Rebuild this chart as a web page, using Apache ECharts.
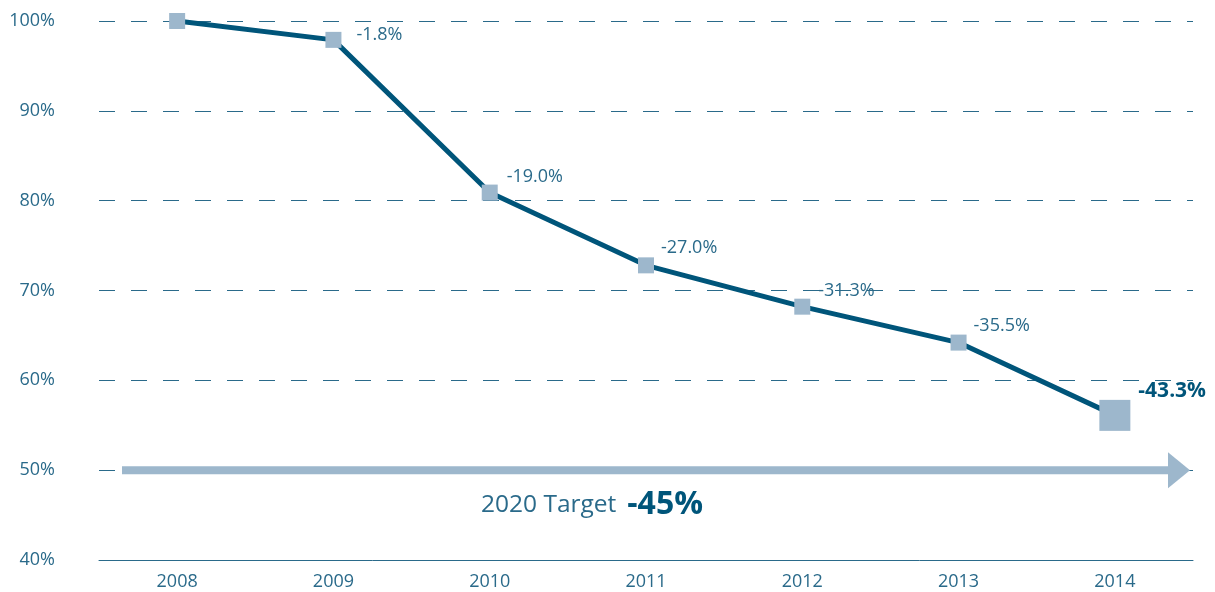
<!DOCTYPE html>
<html>
<head>
<meta charset="utf-8">
<script src="https://cdn.jsdelivr.net/npm/echarts@6/dist/echarts.min.js"></script>
<style>
    html, body { margin: 0; padding: 0; background: #fff; }
    #main { width: 1215px; height: 592px; }
</style>
</head>
<body>
<div id="main"></div>
<script>
var years = ['2008', '2009', '2010', '2011', '2012', '2013', '2014'];
var values = [100, 97.9, 80.9, 72.8, 68.2, 64.2, 56.1];
var changeLabels = ['', '-1.8%', '-19.0%', '-27.0%', '-31.3%', '-35.5%', '-43.3%'];
var targetValue = 50;
var targetText = '2020 Target';
var targetChange = '-45%';

var textColor = '#2a6a8a';
var lineColor = '#00557a';
var markColor = '#9db7cc';
var fontFamily = '"Open Sans", "Noto Sans", sans-serif';

var labelOffsets = [[0, 0], [15, -5], [9, -16], [7, -17], [8, -16], [7, -17], [8, -24]];

var seriesData = [];
for (var i = 0; i < values.length; i++) {
    var last = i === values.length - 1;
    seriesData.push({
        value: values[i],
        symbolSize: last ? 31 : 16,
        label: {
            show: changeLabels[i] !== '',
            formatter: changeLabels[i],
            position: 'right',
            distance: 0,
            offset: labelOffsets[i],
            fontSize: last ? 21 : 18,
            fontWeight: last ? 'bold' : 'normal',
            color: last ? lineColor : textColor,
            fontFamily: fontFamily
        }
    });
}

var myChart = echarts.init(document.getElementById('main'));
var option = {
    animation: false,
    grid: { left: 99, right: 22, top: 21, bottom: 32 },
    xAxis: {
        type: 'category',
        data: years,
        boundaryGap: true,
        axisLine: { lineStyle: { color: textColor, width: 1 } },
        axisTick: { show: false },
        axisLabel: { color: textColor, fontSize: 18, margin: 13, fontFamily: fontFamily }
    },
    yAxis: {
        type: 'value',
        min: 40,
        max: 100,
        interval: 10,
        axisLine: { show: false },
        axisTick: { show: false },
        axisLabel: { formatter: '{value}%', color: textColor, fontSize: 18, margin: 44, fontFamily: fontFamily },
        splitLine: { lineStyle: { color: textColor, width: 1, type: [16, 16] } }
    },
    series: [{
        type: 'line',
        data: seriesData,
        symbol: 'rect',
        z: 5,
        lineStyle: { color: lineColor, width: 5 },
        itemStyle: { color: markColor, opacity: 1 }
    }]
};
myChart.setOption(option);

// target arrow and caption, placed through the value scale
var ty = myChart.convertToPixel({ yAxisIndex: 0 }, targetValue);
var ry = myChart.convertToPixel({ yAxisIndex: 0 }, 46.1);
myChart.setOption({
    graphic: [{
        type: 'rect',
        shape: { x: 122, y: ty - 4, width: 1048, height: 8 },
        style: { fill: markColor },
        z: 3
    }, {
        type: 'polygon',
        shape: { points: [[1168, ty - 18], [1190, ty], [1168, ty + 18]] },
        style: { fill: markColor },
        z: 3
    }, {
        type: 'text',
        x: 481,
        y: ry,
        style: {
            text: '{a|' + targetText + '}{s| }{b|' + targetChange + '}',
            verticalAlign: 'middle',
            rich: {
                a: { fontSize: 24.5, fill: textColor, fontFamily: fontFamily },
                s: { fontSize: 24.5, width: 11, fill: textColor, fontFamily: fontFamily },
                b: { fontSize: 32, fontWeight: 'bold', fill: lineColor, fontFamily: fontFamily }
            }
        },
        z: 3
    }]
});
</script>
</body>
</html>
